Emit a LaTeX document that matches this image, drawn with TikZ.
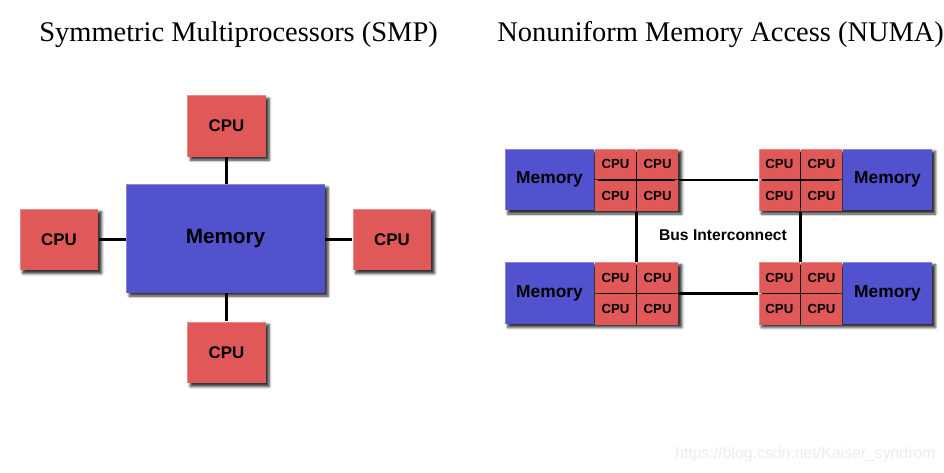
\documentclass[tikz,border=0pt]{standalone}
\usepackage{fontspec}
\setmainfont{Liberation Serif}
\setsansfont{Liberation Sans}
\usetikzlibrary{positioning,fit,backgrounds,shadows.blur}
\definecolor{cpured}{RGB}{224,88,88}
\definecolor{memblue}{RGB}{82,82,206}
\definecolor{markgray}{RGB}{236,236,236}

\begin{document}
\begin{tikzpicture}[x=0.02cm,y=-0.02cm,
    box/.style={rectangle, inner sep=0pt, font=\sffamily\bfseries},
    bevel/.style={path picture={\draw[white,opacity=0.3,line width=1.6pt]
        (path picture bounding box.south west) -- (path picture bounding box.north west)
        -- (path picture bounding box.north east);}},
    shade box/.style={blur shadow={shadow xshift=1.8pt, shadow yshift=-1.8pt,
        shadow blur steps=5, shadow blur radius=1.4pt, shadow opacity=80}},
    cpu/.style={box, fill=cpured, bevel, shade box, minimum width=1.58cm, minimum height=1.24cm,
        font=\sffamily\bfseries\fontsize{9.6}{11}\selectfont},
    mem/.style={box, fill=memblue, bevel, shade box, minimum width=3.98cm, minimum height=2.18cm,
        font=\sffamily\bfseries\fontsize{11.8}{14}\selectfont},
    nmem/.style={box, fill=memblue, minimum width=1.78cm, minimum height=1.24cm,
        font=\sffamily\bfseries\fontsize{9.9}{12}\selectfont},
    cell/.style={box, fill=cpured, minimum width=0.83cm, minimum height=0.62cm,
        font=\sffamily\bfseries\fontsize{7.5}{9}\selectfont},
    link/.style={line width=1.6pt},
    bus/.style={line width=1.4pt},
    divider/.style={line width=0.9pt, shorten >=2pt, shorten <=2pt},
    title/.style={anchor=base west, inner sep=0pt, font=\fontsize{16.2}{19}\selectfont}
  ]
  \useasboundingbox (0,0) rectangle (944,473);

  % titles
  \node[title] (smptitle) at (39,42) {Symmetric Multiprocessors (SMP)};
  \node[title] (numatitle) at (497,42) {Nonuniform Memory Access (NUMA)};

  % SMP: one shared memory, four CPUs
  \node[mem] (smpmem) at (225.5,238.5) {Memory};
  \node[cpu] (cputop) at (226.5,126) {CPU};
  \node[cpu] (cpuleft) at (59,239.5) {CPU};
  \node[cpu] (cpuright) at (392,239.5) {CPU};
  \node[cpu] (cpubot) at (226.5,352.5) {CPU};
  \draw[link] (cputop) -- (cputop |- smpmem.north);
  \draw[link] (cpubot) -- (cpubot |- smpmem.south);
  \draw[link] (cpuleft) -- (cpuleft -| smpmem.west);
  \draw[link] (cpuright) -- (cpuright -| smpmem.east);

  % NUMA: four memory + CPU blocks
  \node[nmem] (tlm) at (549.5,179.5) {Memory};
  \node[cell, anchor=north west] (tlc1) at (tlm.north east) {CPU};
  \node[cell, right=0pt of tlc1] (tlc2) {CPU};
  \node[cell, below=0pt of tlc1] (tlc3) {CPU};
  \node[cell, right=0pt of tlc3] (tlc4) {CPU};

  \node[nmem] (blm) at (549.5,293) {Memory};
  \node[cell, anchor=north west] (blc1) at (blm.north east) {CPU};
  \node[cell, right=0pt of blc1] (blc2) {CPU};
  \node[cell, below=0pt of blc1] (blc3) {CPU};
  \node[cell, right=0pt of blc3] (blc4) {CPU};

  \node[nmem] (trm) at (887.5,179.5) {Memory};
  \node[cell, anchor=north east] (trc2) at (trm.north west) {CPU};
  \node[cell, left=0pt of trc2] (trc1) {CPU};
  \node[cell, below=0pt of trc1] (trc3) {CPU};
  \node[cell, right=0pt of trc3] (trc4) {CPU};

  \node[nmem] (brm) at (887.5,293) {Memory};
  \node[cell, anchor=north east] (brc2) at (brm.north west) {CPU};
  \node[cell, left=0pt of brc2] (brc1) {CPU};
  \node[cell, below=0pt of brc1] (brc3) {CPU};
  \node[cell, right=0pt of brc3] (brc4) {CPU};

  \begin{scope}[on background layer]
    \foreach \m/\c in {tlm/tlc2, blm/blc2, trm/trc1, brm/brc1}
      \node[fit=(\m)(\c), inner sep=0pt, shade box] {};
  \end{scope}
  \foreach \m/\c in {tlm/tlc2, blm/blc2, trm/trc1, brm/brc1}
    \node[fit=(\m)(\c), inner sep=0pt, bevel] {};

  % cell dividers
  \foreach \b in {tlc, blc, trc, brc} {
    \draw[divider] (\b1.north east) -- (\b3.south east);
    \draw[divider] (\b1.south west) -- (\b2.south east);
  }

  % bus links
  \draw[bus] (tlc2.south east) -- (trc1.south west);
  \draw[bus] (blc2.south east) -- (brc1.south west);
  \draw[bus] (tlc3.south east) -- (blc1.north east);
  \draw[bus] (trc3.south east) -- (brc1.north east);
  \node[font=\sffamily\bfseries\fontsize{8.9}{11}\selectfont] (busname) at (723,235) {Bus Interconnect};

  \node[anchor=base west, inner sep=0pt, text=markgray, font=\sffamily\fontsize{9}{11}\selectfont]
    (mark) at (675,458) {https://blog.csdn.net/Kaiser\_syndrom};
\end{tikzpicture}
\end{document}
